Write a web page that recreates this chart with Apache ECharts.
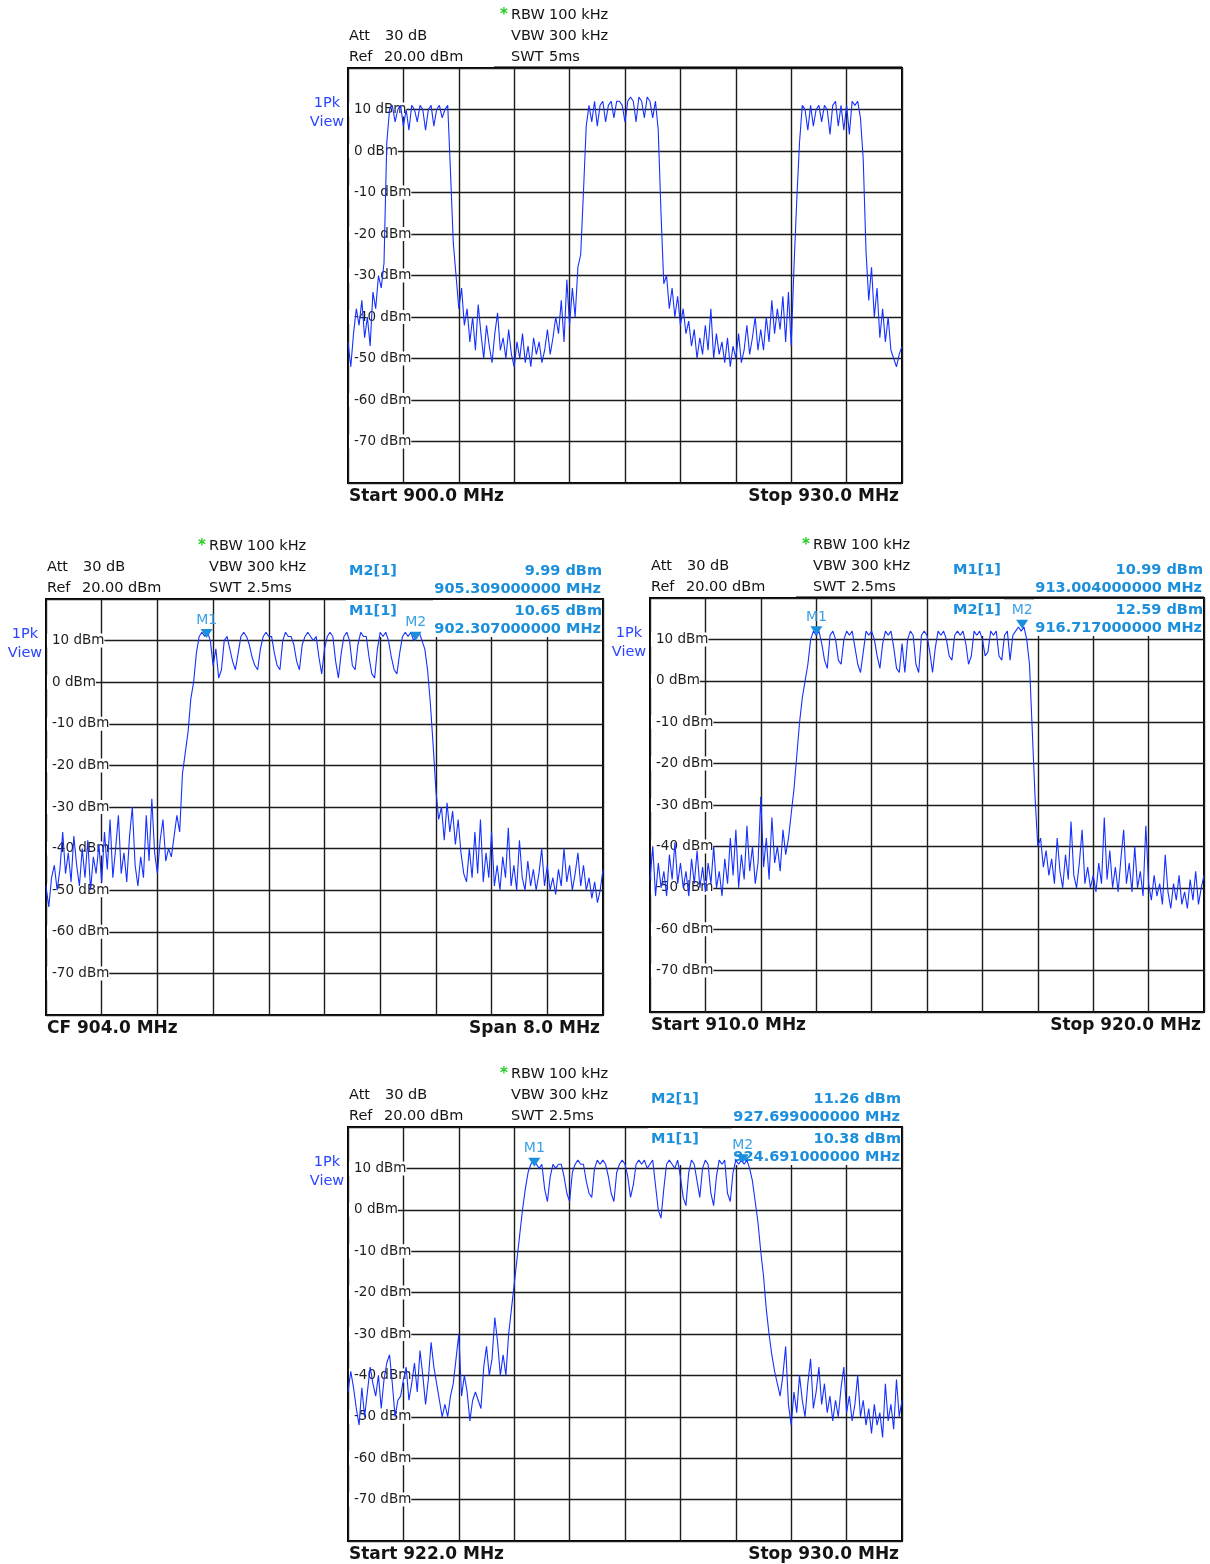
<!DOCTYPE html>
<html>
<head>
<meta charset="utf-8">
<title>Spectrum sweeps 900 - 930 MHz</title>
<script src="https://cdn.jsdelivr.net/npm/echarts@6/dist/echarts.min.js"></script>
<style>
html, body { margin: 0; padding: 0; background: #fff; }
#main { width: 1210px; height: 1564px; }
</style>
</head>
<body>
<div id="main"></div>
<script>
// sweep 1: start 900 MHz, stop 930 MHz, one point per 0.15 MHz (dBm)
var sweep1Start = 900
var sweep1Step = 0.15
var sweep1Levels = [
  -46, -52, -44, -38, -42, -36, -45, -40, -47, -34,
  -38, -30, -33, -27, 2, 10, 11, 7, 10, 11,
  6, 10, 5, 11, 10, 7, 11, 10, 5, 10,
  11, 6, 10, 11, 8, 10, 11, -5, -22, -30,
  -38, -33, -42, -38, -46, -40, -48, -37, -44, -50,
  -42, -47, -51, -44, -39, -48, -45, -50, -43, -49,
  -52, -46, -50, -44, -51, -47, -52, -45, -49, -46,
  -51, -48, -43, -49, -45, -40, -44, -36, -46, -31,
  -42, -33, -40, -28, -25, -10, 6, 11, 7, 12,
  6, 11, 12, 7, 11, 12, 8, 12, 12, 11,
  7, 12, 13, 12, 7, 13, 12, 8, 13, 12,
  8, 12, 5, -15, -32, -30, -38, -33, -40, -35,
  -42, -38, -44, -41, -47, -43, -50, -45, -49, -42,
  -48, -38, -50, -44, -49, -46, -51, -45, -52, -47,
  -50, -44, -51, -48, -42, -49, -45, -40, -48, -43,
  -48, -40, -46, -36, -44, -38, -43, -35, -46, -34,
  -47, -28, -12, 2, 11, 10, 5, 11, 6, 10,
  11, 7, 11, 10, 4, 11, 12, 6, 11, 5,
  11, 4, 12, 11, 12, 8, -2, -24, -36, -28,
  -40, -33, -45, -38, -46, -40, -48, -50, -52, -49,
  -47
]

// sweep 2: CF 904 MHz, span 8 MHz (900 - 908), one point per 0.04 MHz
var sweep2Start = 900
var sweep2Step = 0.04
var sweep2Levels = [
  -49, -54, -47, -44, -50, -45, -36, -46, -41, -48,
  -37, -44, -49, -40, -47, -38, -50, -42, -46, -39,
  -48, -36, -45, -33, -47, -40, -32, -46, -41, -48,
  -37, -30, -44, -49, -42, -47, -32, -43, -28, -41,
  -46, -38, -33, -43, -40, -42, -37, -32, -36, -22,
  -17, -12, -4, 0, 7, 11, 12, 11, 12, 10,
  4, 8, 1, 3, 10, 11, 8, 5, 3, 7,
  11, 12, 11, 9, 6, 4, 3, 8, 11, 12,
  11, 11, 7, 4, 3, 10, 12, 11, 11, 9,
  5, 3, 9, 11, 12, 11, 10, 11, 6, 2,
  8, 11, 12, 11, 5, 1, 7, 11, 12, 10,
  4, 3, 9, 12, 11, 11, 6, 2, 1, 8,
  12, 11, 12, 10, 6, 3, 2, 7, 11, 12,
  11, 12, 10, 11, 12, 10, 8, 3, -5, -15,
  -26, -33, -30, -38, -29, -36, -31, -39, -33, -41,
  -46, -48, -40, -47, -36, -46, -33, -48, -41, -47,
  -36, -49, -44, -50, -42, -47, -35, -49, -44, -50,
  -38, -47, -50, -43, -49, -45, -50, -46, -40, -49,
  -44, -50, -47, -51, -45, -49, -40, -48, -44, -50,
  -46, -41, -49, -44, -50, -47, -52, -48, -53, -50,
  -45
]

// sweep 3: start 910 MHz, stop 920 MHz, one point per 0.05 MHz
var sweep3Start = 910
var sweep3Step = 0.05
var sweep3Levels = [
  -48, -40, -52, -44, -50, -46, -52, -42, -48, -39,
  -49, -44, -50, -46, -52, -43, -49, -41, -50, -45,
  -51, -44, -49, -40, -50, -46, -52, -43, -49, -38,
  -47, -36, -50, -42, -48, -35, -46, -40, -49, -44,
  -28, -45, -38, -48, -33, -44, -40, -46, -36, -42,
  -38, -32, -26, -18, -10, -4, 0, 4, 10, 12,
  11, 12, 9, 5, 3, 11, 12, 10, 5, 4,
  10, 12, 11, 12, 8, 4, 2, 7, 12, 11,
  12, 10, 6, 3, 9, 12, 11, 12, 8, 3,
  2, 9, 2, 10, 12, 11, 4, 2, 11, 12,
  11, 7, 2, 8, 12, 11, 12, 10, 6, 5,
  11, 12, 11, 12, 9, 4, 6, 12, 11, 12,
  10, 6, 7, 12, 11, 12, 6, 5, 11, 12,
  5, 11, 12, 13, 12, 13, 10, 4, -12, -28,
  -40, -38, -45, -41, -47, -43, -49, -38, -46, -50,
  -42, -48, -34, -47, -50, -44, -36, -49, -45, -50,
  -47, -51, -44, -49, -33, -48, -41, -50, -45, -51,
  -43, -36, -49, -44, -51, -40, -50, -46, -52, -35,
  -49, -53, -47, -52, -49, -54, -42, -51, -55, -49,
  -53, -47, -54, -51, -55, -48, -53, -46, -54, -50,
  -47
]

// sweep 4: start 922 MHz, stop 930 MHz, one point per 0.04 MHz
var sweep4Start = 922
var sweep4Step = 0.04
var sweep4Levels = [
  -44, -39, -43, -48, -52, -43, -50, -44, -38, -42,
  -45, -40, -48, -41, -37, -35, -42, -50, -46, -45,
  -41, -38, -46, -42, -37, -44, -34, -40, -47, -41,
  -32, -38, -42, -46, -50, -47, -50, -45, -42, -36,
  -30, -45, -40, -44, -51, -46, -44, -46, -48, -38,
  -33, -40, -36, -26, -32, -40, -35, -40, -30, -24,
  -18, -12, -6, 0, 5, 9, 11, 12, 11, 10,
  11, 5, 2, 8, 11, 10, 11, 11, 8, 4,
  2, 9, 11, 12, 11, 11, 7, 4, 3, 10,
  12, 11, 12, 11, 8, 4, 2, 9, 11, 12,
  11, 8, 3, 6, 11, 12, 11, 12, 10, 11,
  12, 6, 0, -2, 5, 11, 12, 11, 10, 12,
  8, 3, 1, 9, 12, 11, 7, 3, 10, 12,
  11, 4, 1, 8, 12, 11, 12, 4, 2, 9,
  12, 11, 12, 11, 12, 10, 7, 2, -3, -10,
  -16, -24, -30, -35, -39, -42, -45, -40, -33, -47,
  -52, -44, -49, -40, -46, -50, -42, -36, -48, -44,
  -38, -47, -42, -49, -45, -51, -46, -50, -43, -38,
  -49, -45, -51, -47, -40, -50, -46, -52, -48, -54,
  -47, -52, -49, -55, -42, -51, -47, -53, -41, -50,
  -46
]

// markers: name, frequency (MHz), level (dBm)
var markers2 = [['M1', 902.307, 10.65], ['M2', 905.309, 9.99]]
var markers3 = [['M1', 913.004, 10.99], ['M2', 916.717, 12.59]]
var markers4 = [['M1', 924.691, 10.38], ['M2', 927.699, 11.26]]

// level axis (dBm)
var refLevel = 20
var bottomLevel = -80
var levelStep = 10

var FONT = '"DejaVu Sans", Verdana, sans-serif'
var INK = '#141414'
var TRACE = '#1530ff'
var MARK = '#1b8fdc'
var MARK_LABEL = '#3ba1e6'
var VIEW_BLUE = '#2a44ff'
var GRID_LINE = '#1c1c1c'

var panels = [
  { box: [348, 68, 554, 415], start: sweep1Start, step: sweep1Step, levels: sweep1Levels, span: 30,
    swt: '5ms', footLeft: 'Start 900.0 MHz', footRight: 'Stop 930.0 MHz', markers: [], readout: [], rule: true },
  { box: [46, 599, 557, 416], start: sweep2Start, step: sweep2Step, levels: sweep2Levels, span: 8,
    swt: '2.5ms', footLeft: 'CF 904.0 MHz', footRight: 'Span 8.0 MHz', markers: markers2, readout: [1, 0] },
  { box: [650, 598, 554, 414], start: sweep3Start, step: sweep3Step, levels: sweep3Levels, span: 10,
    swt: '2.5ms', footLeft: 'Start 910.0 MHz', footRight: 'Stop 920.0 MHz', markers: markers3, readout: [0, 1], rule: true },
  { box: [348, 1127, 554, 414], start: sweep4Start, step: sweep4Step, levels: sweep4Levels, span: 8,
    swt: '2.5ms', footLeft: 'Start 922.0 MHz', footRight: 'Stop 930.0 MHz', markers: markers4, readout: [1, 0] }
]

function txt (x, y, s, font, fill, align, z) {
  return {
    type: 'text', x: x, y: y, z: z || 5, silent: true,
    style: { text: s, font: font, fill: fill, textAlign: align || 'left', textVerticalAlign: 'middle' }
  }
}

var grids = []
var xAxes = []
var yAxes = []
var series = []
var graphics = []

panels.forEach(function (p, k) {
  var left = p.box[0]
  var top = p.box[1]
  var right = left + p.box[2]
  var bottom = top + p.box[3]

  grids.push({
    left: left, top: top, width: p.box[2], height: p.box[3],
    show: true, borderColor: '#000', borderWidth: 2, backgroundColor: '#fff'
  })

  // x axis counted in MHz from the start frequency, so ticks start at 0
  xAxes.push({
    gridIndex: k, type: 'value', min: 0, max: p.span, interval: p.span / 10, z: 0,
    axisLine: { show: false }, axisTick: { show: false }, axisLabel: { show: false },
    splitLine: { show: true, lineStyle: { color: GRID_LINE, width: 1.4 } }
  })
  yAxes.push({
    gridIndex: k, type: 'value', min: bottomLevel, max: refLevel, interval: levelStep, z: 1,
    axisLine: { show: false }, axisTick: { show: false },
    axisLabel: {
      inside: true, margin: 1, formatter: '{value} dBm', color: '#1e1e1e',
      fontFamily: FONT, fontSize: 13.5, backgroundColor: '#fff', padding: [0, 0, 0, 5],
      showMinLabel: false, showMaxLabel: false
    },
    splitLine: { show: true, lineStyle: { color: GRID_LINE, width: 1.4 } }
  })

  var pts = p.levels.map(function (v, i) {
    return [+(i * p.step).toFixed(3), v]
  })

  series.push({
    type: 'line', xAxisIndex: k, yAxisIndex: k, data: pts, z: 2,
    symbol: 'none', showSymbol: false, animation: false, clip: true,
    lineStyle: { color: TRACE, width: 1.1 },
    markPoint: {
      symbol: 'path://M0,0L10,0L5,8Z', symbolSize: [12, 9], symbolOffset: [0, '-50%'],
      itemStyle: { color: MARK },
      label: { show: true, position: 'top', distance: 2, formatter: '{b}', color: MARK_LABEL, fontFamily: FONT, fontSize: 14 },
      data: p.markers.map(function (m) {
        return { name: m[0], coord: [+(m[1] - p.start).toFixed(3), m[2]] }
      })
    }
  })

  // header block
  var reg = FONT
  var head = '14.5px ' + reg
  graphics.push(txt(left + 1, top - 32, 'Att', head, INK))
  graphics.push(txt(left + 37, top - 32, '30 dB', head, INK))
  graphics.push(txt(left + 1, top - 11, 'Ref', head, INK))
  graphics.push(txt(left + 36, top - 11, '20.00 dBm', head, INK))
  graphics.push(txt(left + 152, top - 53, '*', 'bold 15px ' + reg, '#22cc22'))
  graphics.push(txt(left + 163, top - 53, 'RBW', head, INK))
  graphics.push(txt(left + 201, top - 53, '100 kHz', head, INK))
  graphics.push(txt(left + 163, top - 32, 'VBW', head, INK))
  graphics.push(txt(left + 201, top - 32, '300 kHz', head, INK))
  graphics.push(txt(left + 163, top - 11, 'SWT', head, INK))
  graphics.push(txt(left + 201, top - 11, p.swt, head, INK))
  if (p.rule) {
    graphics.push({
      type: 'line', z: 5, silent: true,
      shape: { x1: left + 146, y1: top - 1.5, x2: right, y2: top - 1.5 },
      style: { stroke: '#777', lineWidth: 1 }
    })
  }

  // trace label
  graphics.push(txt(left - 21, top + 35, '1Pk', head, VIEW_BLUE, 'center'))
  graphics.push(txt(left - 21, top + 54, 'View', head, VIEW_BLUE, 'center'))

  // footer
  graphics.push(txt(left + 1, bottom + 14, p.footLeft, 'bold 17px ' + reg, INK))
  graphics.push(txt(right - 3, bottom + 14, p.footRight, 'bold 17px ' + reg, INK, 'right'))

  // marker readout
  if (p.readout.length) {
    graphics.push({
      type: 'rect', z: 1.5, silent: true,
      shape: { x: left + 300, y: top + 1, width: 54, height: 37 },
      style: { fill: '#fff' }
    })
    graphics.push({
      type: 'rect', z: 1.5, silent: true,
      shape: { x: right - 170, y: top + 1, width: 169, height: 37 },
      style: { fill: '#fff' }
    })
    p.readout.forEach(function (mi, row) {
      var m = p.markers[mi]
      var y0 = top - 28 + row * 40
      var bold = 'bold 14.5px ' + reg
      graphics.push(txt(left + 303, y0, m[0] + '[1]', bold, MARK, 'left', 1.6))
      graphics.push(txt(right - 1, y0, m[2].toFixed(2) + ' dBm', bold, MARK, 'right', 1.6))
      graphics.push(txt(right - 2, y0 + 18, m[1].toFixed(9) + ' MHz', bold, MARK, 'right', 1.6))
    })
  }
})

var chartDom = document.getElementById('main')
var myChart = echarts.init(chartDom)
var option = {
  animation: false,
  backgroundColor: '#fff',
  grid: grids,
  xAxis: xAxes,
  yAxis: yAxes,
  series: series,
  graphic: { elements: graphics }
}
myChart.setOption(option)
</script>
</body>
</html>
